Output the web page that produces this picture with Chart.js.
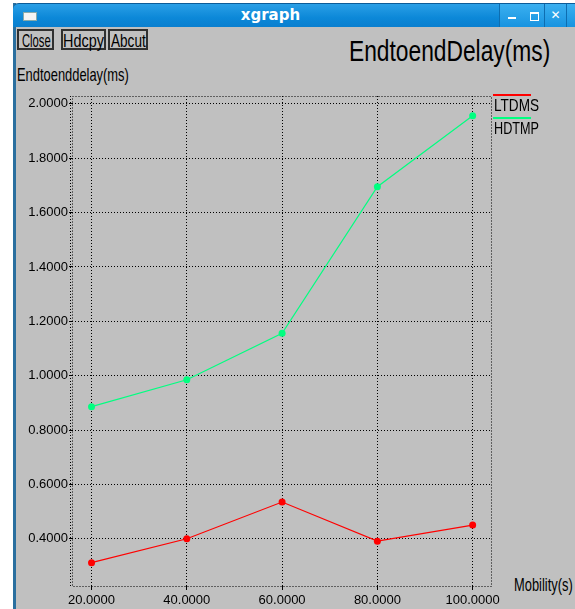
<!DOCTYPE html>
<html>
<head>
<meta charset="utf-8">
<script src="https://cdn.jsdelivr.net/npm/chart.js@4/dist/chart.umd.min.js"></script>
<style>
  body { margin: 0; background: #fff; width: 575px; height: 609px; overflow: hidden; position: relative; font-family: "Liberation Sans", Arial, sans-serif; }
  #win { position: absolute; left: 13px; top: 3px; width: 570px; height: 610px; background: #c0c0c0; border-left: 3px solid #2a6f9f; box-sizing: border-box; }
  #bar { position: absolute; left: 13px; top: 3px; width: 570px; height: 24px; border-top-left-radius: 6px;
         background: linear-gradient(to bottom, #2a9fe6 0%, #0c88d8 60%, #0a7fcf 100%); border-top: 1px solid #0b5c99; box-sizing: border-box; }
  #bar .name { position: absolute; left: 0; width: 515px; top: 2px; text-align: center; color: #fff; font: bold 15px "DejaVu Sans", sans-serif; }
  #bar .icon { position: absolute; left: 10px; top: 8px; width: 12px; height: 7px; background: #f4f4f4; border: 1px solid #8aa; }
  .wbtn { position: absolute; top: 0; height: 23px; background: linear-gradient(to bottom, #3ab0f0, #1893e0); border-left: 1px solid #0d6db0; }
  .glyph { position: absolute; background: #fff; }
  .btn { position: absolute; top: 29px; height: 21px; border: 2px solid #303030; box-sizing: border-box; overflow: hidden; }
  .txt { position: absolute; white-space: nowrap; color: #000; line-height: 1; transform-origin: 0 0; display: inline-block; }
  #chart { position: absolute; left: 16px; top: 27px; }
</style>
</head>
<body>
<div id="win"></div>
<div id="bar">
  <div class="icon"></div>
  <div class="name">xgraph</div>
  <div class="wbtn" style="left:486px;width:44px;">
    <div class="glyph" style="left:8px;top:13px;width:8px;height:2px;"></div>
    <div class="glyph" style="left:30px;top:8px;width:7px;height:6px;background:none;border:1px solid #fff;border-top-width:2px;"></div>
  </div>
  <div class="wbtn" style="left:531px;width:21px;text-align:center;color:#fff;font:bold 12px 'DejaVu Sans',sans-serif;line-height:22px;">&#10005;</div>
  <div class="wbtn" style="left:553px;width:20px;"></div>
</div>

<div class="btn" style="left:17px;width:37px;"></div>
<div class="btn" style="left:61px;width:45px;"></div>
<div class="btn" style="left:108px;width:40px;"></div>
<span class="txt" data-w="29" style="left:22px;top:31px;font-size:19px;">Close</span>
<span class="txt" data-w="41" style="left:63px;top:31px;font-size:19px;">Hdcpy</span>
<span class="txt" data-w="35" style="left:111px;top:31px;font-size:19px;">Abcut</span>

<span class="txt" data-w="201" style="left:349px;top:37px;font-size:29px;">EndtoendDelay(ms)</span>
<span class="txt" data-w="112" style="left:17px;top:65px;font-size:19px;">Endtoenddelay(ms)</span>
<span class="txt" data-w="59" style="left:514px;top:575px;font-size:19px;">Mobility(s)</span>

<canvas id="chart" width="559" height="582"></canvas>

<script>
// mobility values on the x axis
const mobility = [20, 40, 60, 80, 100];
// end to end delay for each protocol
const ltdms = [0.312, 0.400, 0.535, 0.391, 0.450];
const hdtmp = [0.886, 0.985, 1.156, 1.695, 1.956];

const xTicks = [20, 40, 60, 80, 100];
const yTicks = [0.4, 0.6, 0.8, 1.0, 1.2, 1.4, 1.6, 1.8, 2.0];

// squeeze the html labels to the narrow look of the xgraph font
document.querySelectorAll(".txt").forEach(function (el) {
    var w = parseFloat(el.dataset.w);
    el.style.transform = "scaleX(" + (w / el.offsetWidth) + ")";
});

function pontos(serie) {
    return mobility.map(function (m, i) {
        return { x: m, y: serie[i] };
    });
}

// dotted box round the plot
const moldura = {
    id: "moldura",
    beforeDatasetsDraw(chart) {
        const a = chart.chartArea;
        const ctx = chart.ctx;
        ctx.save();
        ctx.strokeStyle = "#000";
        ctx.lineWidth = 1;
        ctx.setLineDash([1, 2]);
        ctx.strokeRect(a.left + 0.5, a.top + 0.5, a.right - a.left, a.bottom - a.top);
        ctx.beginPath();
        ctx.moveTo(a.left - 1.5, a.top);
        ctx.lineTo(a.left - 1.5, a.bottom);
        ctx.stroke();
        ctx.restore();
    },
};

// xgraph style legend: a line over each name, right of the plot
const legenda = {
    id: "legenda",
    afterDraw(chart) {
        const a = chart.chartArea;
        const ctx = chart.ctx;
        ctx.save();
        chart.data.datasets.forEach(function (ds, i) {
            var y = a.top - 1 + i * 23;
            ctx.strokeStyle = ds.borderColor;
            ctx.lineWidth = 2;
            ctx.beginPath();
            ctx.moveTo(a.right + 2, y);
            ctx.lineTo(a.right + 40, y);
            ctx.stroke();

            ctx.font = "17px 'Liberation Sans'";
            ctx.fillStyle = "#000";
            ctx.textBaseline = "alphabetic";
            var largura = ctx.measureText(ds.label).width;
            ctx.save();
            ctx.translate(a.right + 3, y + 16);
            ctx.scale(45 / largura, 1);
            ctx.fillText(ds.label, 0, 0);
            ctx.restore();
        });
        ctx.restore();
    },
};

const fonteTicks = { family: "'Liberation Sans'", size: 13 };

new Chart(document.getElementById("chart"), {
    type: "line",
    data: {
        datasets: [
            {
                label: "LTDMS",
                data: pontos(ltdms),
                borderColor: "#ff0000",
                backgroundColor: "#ff0000",
                borderWidth: 1.2,
                pointRadius: 3.5,
                pointBorderWidth: 0,
            },
            {
                label: "HDTMP",
                data: pontos(hdtmp),
                borderColor: "#00ff80",
                backgroundColor: "#00ff80",
                borderWidth: 1.2,
                pointRadius: 3.5,
                pointBorderWidth: 0,
            },
        ],
    },
    options: {
        responsive: false,
        animation: false,
        layout: { padding: { top: 69, right: 84, left: 0, bottom: 0 } },
        plugins: {
            legend: { display: false },
            tooltip: { enabled: false },
        },
        scales: {
            x: {
                type: "linear",
                min: 15.9,
                max: 103.85,
                afterBuildTicks: function (s) {
                    s.ticks = xTicks.map(function (v) { return { value: v }; });
                },
                afterFit: function (s) { s.height = 23; },
                ticks: {
                    color: "#000",
                    font: fonteTicks,
                    padding: 3,
                    maxRotation: 0,
                    autoSkip: false,
                    callback: function (v) { return v.toFixed(4); },
                },
                grid: { color: "#000", tickColor: "#000", tickLength: 4 },
                border: { display: false, dash: [1, 2] },
            },
            y: {
                min: 0.226,
                max: 2.029,
                afterBuildTicks: function (s) {
                    s.ticks = yTicks.map(function (v) { return { value: v }; });
                },
                afterFit: function (s) { s.width = 56; },
                ticks: {
                    color: "#000",
                    font: fonteTicks,
                    padding: 1,
                    callback: function (v) { return v.toFixed(4); },
                },
                grid: { color: "#000", tickColor: "#000", tickLength: 3 },
                border: { display: false, dash: [1, 2] },
            },
        },
    },
    plugins: [moldura, legenda],
});
</script>
</body>
</html>
